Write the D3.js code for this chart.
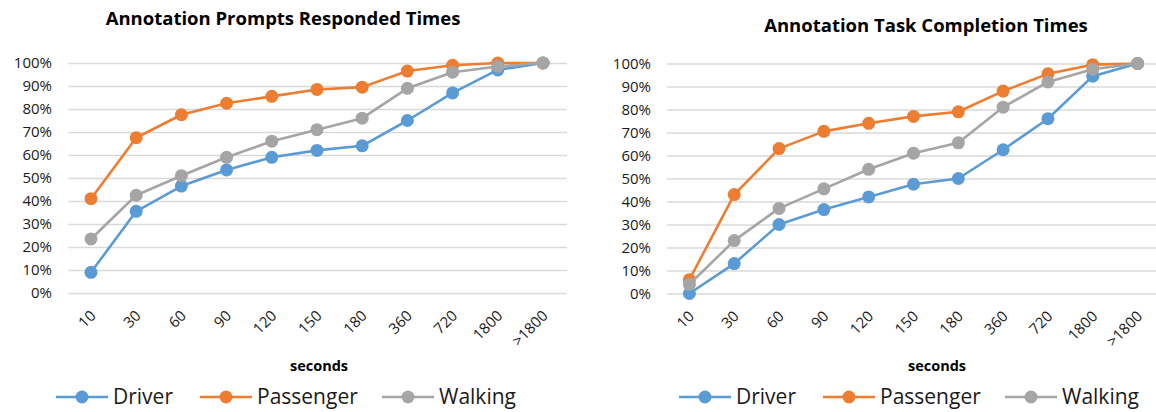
<!DOCTYPE html>
<html>
<head>
<meta charset="utf-8">
<script src="https://cdn.jsdelivr.net/npm/d3@7/dist/d3.min.js"></script>
<style>
  html, body { margin: 0; padding: 0; background: #fff; }
  svg { display: block; font-family: "Open Sans", sans-serif; }
</style>
</head>
<body>
<svg id="chart" width="1156" height="412"></svg>
<script>
// Response-time buckets (seconds)
const categories = ["10", "30", "60", "90", "120", "150", "180", "360", "720", "1800", ">1800"];
const seriesNames = ["Driver", "Passenger", "Walking"];
const seriesColors = ["#5B9BD5", "#ED7D31", "#A5A5A5"];
const yTicks = [0, 0.1, 0.2, 0.3, 0.4, 0.5, 0.6, 0.7, 0.8, 0.9, 1.0];

// Cumulative share of annotation prompts responded to, per bucket
const promptsDriver    = [0.09, 0.355, 0.465, 0.535, 0.59, 0.62, 0.64, 0.75, 0.87, 0.97, 1.00];
const promptsPassenger = [0.41, 0.675, 0.775, 0.825, 0.855, 0.885, 0.895, 0.965, 0.99, 1.00, 1.00];
const promptsWalking   = [0.235, 0.425, 0.51, 0.59, 0.66, 0.71, 0.76, 0.89, 0.96, 0.985, 1.00];

// Cumulative share of annotation tasks completed, per bucket
const tasksDriver    = [0.00, 0.13, 0.30, 0.365, 0.42, 0.475, 0.50, 0.625, 0.76, 0.945, 1.00];
const tasksPassenger = [0.06, 0.43, 0.63, 0.705, 0.74, 0.77, 0.79, 0.88, 0.955, 0.995, 1.00];
const tasksWalking   = [0.04, 0.23, 0.37, 0.455, 0.54, 0.61, 0.655, 0.81, 0.92, 0.975, 1.00];

const svg = d3.select("#chart");

function drawPanel(opts) {
  const g = svg.append("g");
  const x = d3.scaleBand().domain(categories).range([opts.x0, opts.x1]);
  const y = d3.scaleLinear().domain([0, 1]).range([opts.yBottom, opts.yTop]);
  const cx = c => x(c) + x.bandwidth() / 2;

  // Title
  g.append("text")
    .attr("x", opts.titleX).attr("y", opts.titleY)
    .attr("text-anchor", "middle")
    .attr("font-size", 18.5).attr("font-weight", 700).attr("fill", "#000")
    .text(opts.title);

  // Y axis with horizontal gridlines
  const yAxis = d3.axisLeft(y).tickValues(yTicks).tickFormat(d3.format(".0%"))
    .tickSize(-(opts.gridX1 - opts.x0)).tickPadding(opts.x0 - opts.labelRight);
  const ya = g.append("g").attr("transform", `translate(${opts.x0},0)`).call(yAxis);
  ya.select(".domain").remove();
  ya.selectAll(".tick line").attr("stroke", "#D9D9D9").attr("stroke-width", 1.3);
  ya.selectAll(".tick text").attr("font-size", 15).attr("fill", "#1a1a1a")
    .attr("font-family", "'Open Sans', sans-serif");

  // X axis: rotated category labels
  const xAxis = d3.axisBottom(x).tickSize(0).tickPadding(0);
  const xa = g.append("g").attr("transform", `translate(0,${opts.yBottom})`).call(xAxis);
  xa.select(".domain").remove();
  xa.selectAll(".tick text")
    .attr("font-size", 15).attr("fill", "#1a1a1a")
    .attr("font-family", "'Open Sans', sans-serif")
    .attr("text-anchor", "end")
    .attr("dy", "0.35em")
    .attr("transform", "translate(2,20) rotate(-45)");

  // Axis title
  g.append("text")
    .attr("x", opts.axisTitleX).attr("y", opts.axisTitleY)
    .attr("text-anchor", "middle")
    .attr("font-size", 14.5).attr("font-weight", 700).attr("fill", "#000")
    .text("seconds");

  // Series lines and markers
  opts.series.forEach((vals, i) => {
    const pts = categories.map((c, k) => [cx(c), y(vals[k])]);
    g.append("path")
      .attr("d", d3.line()(pts))
      .attr("fill", "none")
      .attr("stroke", seriesColors[i])
      .attr("stroke-width", 2.6)
      .attr("stroke-linejoin", "round");
    g.selectAll(null).data(pts).enter().append("circle")
      .attr("cx", d => d[0]).attr("cy", d => d[1]).attr("r", 6.5)
      .attr("fill", seriesColors[i]);
  });

  // Legend
  const lg = g.append("g");
  seriesNames.forEach((name, i) => {
    const lx = opts.legendX[i];
    const ly = opts.legendY;
    lg.append("line")
      .attr("x1", lx).attr("x2", lx + 52).attr("y1", ly).attr("y2", ly)
      .attr("stroke", seriesColors[i]).attr("stroke-width", 2.6);
    lg.append("circle").attr("cx", lx + 26).attr("cy", ly).attr("r", 6.5)
      .attr("fill", seriesColors[i]);
    lg.append("text")
      .attr("x", lx + 57).attr("y", ly).attr("dy", "0.35em")
      .attr("font-size", 21).attr("fill", "#1a1a1a")
      .text(name);
  });
}

drawPanel({
  title: "Annotation Prompts Responded Times",
  titleX: 283, titleY: 25,
  x0: 68.4, x1: 565.6, gridX1: 567,
  yTop: 63, yBottom: 293,
  labelRight: 52,
  axisTitleX: 319, axisTitleY: 371,
  legendX: [56, 200, 382], legendY: 397,
  series: [promptsDriver, promptsPassenger, promptsWalking]
});

drawPanel({
  title: "Annotation Task Completion Times",
  titleX: 926, titleY: 32,
  x0: 667, x1: 1160, gridX1: 1160,
  yTop: 63.5, yBottom: 293.5,
  labelRight: 651,
  axisTitleX: 937, axisTitleY: 371,
  legendX: [679, 823, 1005], legendY: 397,
  series: [tasksDriver, tasksPassenger, tasksWalking]
});
</script>
</body>
</html>
